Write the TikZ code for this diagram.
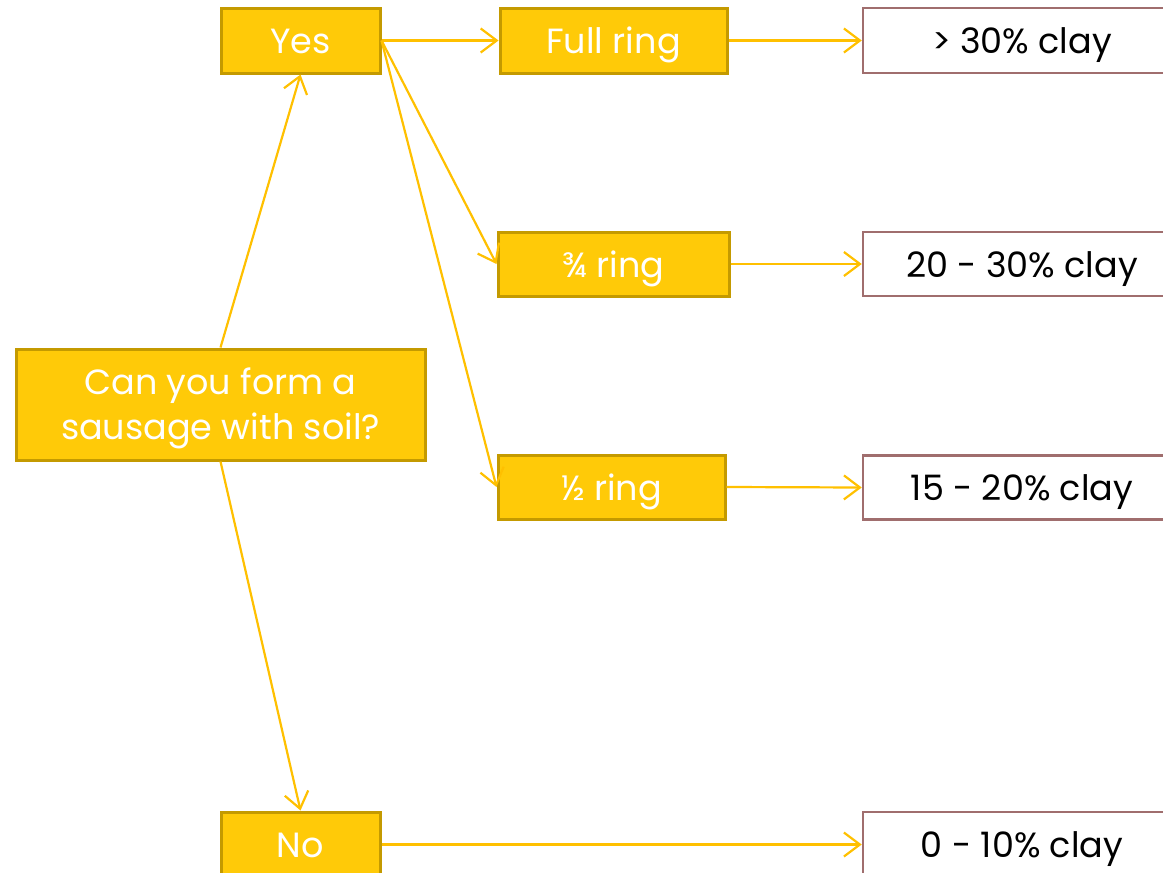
\documentclass[tikz,border=0pt]{standalone}
\usepackage{fontspec}
\setmainfont{Poppins}
\usetikzlibrary{arrows.meta}
\definecolor{gold}{HTML}{FFCA08}
\definecolor{goldedge}{HTML}{C49A00}
\definecolor{goldline}{HTML}{FFC000}
\definecolor{rosyedge}{HTML}{A06E6E}
\begin{document}
\begin{tikzpicture}[x=1pt,y=-1pt,
  goldbox/.style={draw=goldedge, line width=3pt, fill=gold, text=white,
    font=\fontsize{35}{45}\selectfont, align=center, inner sep=0pt},
  oneline/.style={text height=30pt, text depth=4pt},
  answer/.style={goldbox, oneline},
  result/.style={draw=rosyedge, line width=2.5pt, fill=white, text=black,
    font=\fontsize{35}{45}\selectfont, inner sep=0pt, oneline},
  link/.style={draw=goldline, line width=2.2pt,
    -{Straight Barb[length=16pt,width=24pt,line width=2.2pt]}}]
\useasboundingbox (0,0) rectangle (1163,873);
% decision nodes
\node[goldbox, minimum width=409pt, minimum height=111pt] (q) at (220.5,404.5) {};
\node[text=white, font=\fontsize{35}{45}\selectfont, align=center, inner sep=0pt]
  (qtext) at (220.5,408) {Can you form a\\sausage with soil?};
\node[answer, minimum width=159pt, minimum height=65pt] (yes) at (300.5,40.5) {Yes};
\node[answer, minimum width=159pt, minimum height=65pt] (no) at (300.5,844.5) {No};
% ring nodes
\node[answer, minimum width=227pt, minimum height=65pt] (full) at (613.5,40.5) {Full ring};
\node[answer, minimum width=231pt, minimum height=64pt] (tq) at (613.5,264) {¾ ring};
\node[answer, minimum width=227pt, minimum height=64pt] (half) at (611.5,487) {½ ring};
% clay content results
\node[result, minimum width=318pt, minimum height=65pt] (r1) at (1022,40.5) {> 30\% clay};
\node[result, minimum width=318pt, minimum height=64pt] (r2) at (1022,264) {20 - 30\% clay};
\node[result, minimum width=318pt, minimum height=64pt] (r3) at (1022,487.5) {15 - 20\% clay};
\node[result, minimum width=318pt, minimum height=65pt] (r4) at (1022,844.5) {0 - 10\% clay};
% connectors
\draw[link] (q.north) -- (yes.south);
\draw[link] (q.south) -- (no.north);
\draw[link] (yes.east) -- (full.west);
\draw[link] (yes.east) -- (tq.west);
\draw[link] (yes.east) -- (half.west);
\draw[link] (full.east) -- (r1.west);
\draw[link] (tq.east) -- (r2.west);
\draw[link] (half.east) -- (r3.west);
\draw[link] (no.east) -- (r4.west);
\end{tikzpicture}
\end{document}
